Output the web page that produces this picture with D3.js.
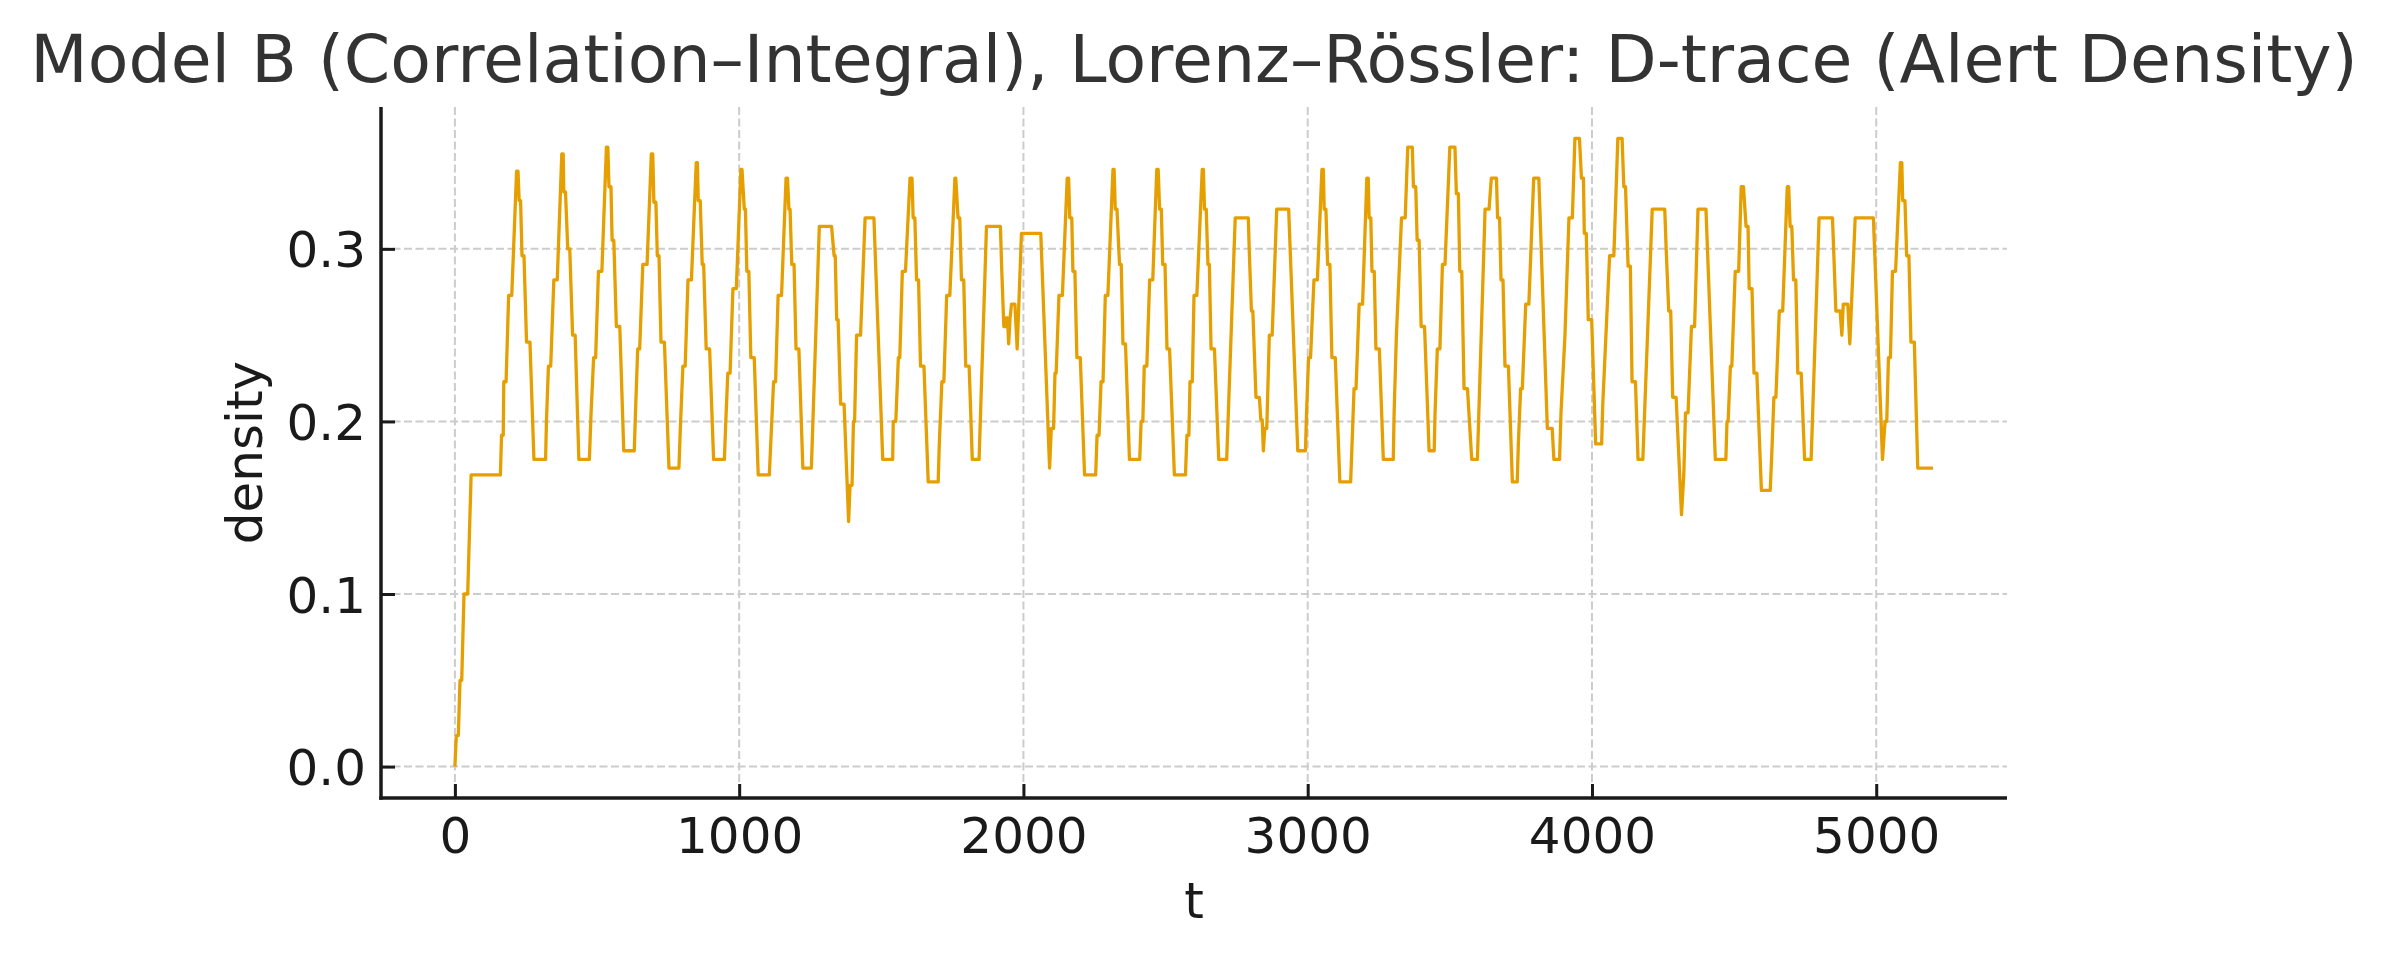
<!DOCTYPE html>
<html>
<head>
<meta charset="utf-8">
<script src="https://cdn.jsdelivr.net/npm/d3@7"></script>
<style>
  html, body { margin: 0; padding: 0; background: #ffffff; }
  svg { display: block; }
  text { font-family: "DejaVu Sans", sans-serif; }
</style>
</head>
<body>
<svg id="chart" width="2388" height="957"></svg>
<script>
// ---- data ----
const chartTitle = "Model B (Correlation–Integral), Lorenz–Rössler: D-trace (Alert Density)";
const xLabel = "t";
const yLabel = "density";
const xTickValues = [0, 1000, 2000, 3000, 4000, 5000];
const yTickValues = [0.0, 0.1, 0.2, 0.3];

const tValues = [
  0, 5, 12, 18, 24, 32, 45, 57, 160, 164, 170, 172, 180, 189, 200, 217, 222, 226, 231, 236, 243, 252, 264, 278,
  319, 322, 329, 337, 348, 360, 376, 381, 383, 389, 397, 404, 414, 423, 436,
  473, 479, 488, 495, 505, 517, 533, 538, 542, 549, 553, 559, 568, 580, 594,
  631, 635, 643, 650, 661, 676, 691, 696, 700, 707, 712, 718, 725, 737, 753,
  788, 793, 802, 810, 820, 832, 849, 853, 856, 863, 870, 875, 884, 896, 910,
  948, 952, 960, 968, 978, 990, 1006, 1010, 1018, 1022, 1027, 1034, 1041, 1053, 1067,
  1106, 1111, 1121, 1128, 1137, 1149, 1165, 1170, 1175, 1179, 1185, 1193, 1200, 1210, 1224,
  1254, 1282, 1325, 1334, 1338, 1343, 1348, 1357, 1369, 1385, 1390, 1397, 1402, 1406, 1413, 1427, 1443, 1474, 1505,
  1540, 1542, 1551, 1560, 1565, 1574, 1585, 1601, 1608, 1612, 1618, 1624, 1631, 1638, 1650, 1665,
  1700, 1704, 1713, 1720, 1730, 1741, 1759, 1762, 1770, 1776, 1782, 1790, 1797, 1809, 1820,
  1844, 1870, 1919, 1923, 1931, 1936, 1938, 1944, 1948, 1953, 1958, 1970, 1978, 1993, 2061, 2092,
  2098, 2106, 2111, 2115, 2125, 2137, 2154, 2159, 2163, 2170, 2174, 2181, 2188, 2200, 2215,
  2254, 2259, 2266, 2273, 2280, 2288, 2297, 2315, 2319, 2323, 2329, 2338, 2344, 2350, 2359, 2373,
  2409, 2414, 2420, 2425, 2434, 2444, 2455, 2469, 2474, 2479, 2485, 2490, 2498, 2505, 2514, 2531,
  2570, 2575, 2582, 2586, 2594, 2600, 2610, 2629, 2633, 2637, 2643, 2649, 2654, 2660, 2672, 2687,
  2715, 2745, 2791, 2795, 2802, 2807, 2818, 2830, 2835, 2840, 2844, 2849, 2856, 2865, 2875, 2891, 2933, 2965,
  2992, 2996, 3003, 3010, 3022, 3034, 3050, 3055, 3058, 3064, 3070, 3078, 3085, 3097, 3113,
  3151, 3156, 3163, 3170, 3181, 3193, 3208, 3213, 3216, 3222, 3226, 3234, 3240, 3252, 3266,
  3301, 3304, 3312, 3330, 3343, 3352, 3368, 3372, 3380, 3385, 3392, 3399, 3411, 3427,
  3445, 3448, 3456, 3465, 3474, 3483, 3500, 3518, 3523, 3530, 3535, 3542, 3550, 3562, 3577,
  3597, 3624, 3638, 3646, 3664, 3668, 3675, 3680, 3687, 3694, 3706, 3720,
  3737, 3741, 3749, 3755, 3767, 3778, 3795, 3813, 3843, 3860, 3866,
  3886, 3891, 3905, 3919, 3931, 3940, 3956, 3963, 3970, 3973, 3980, 3987, 3999, 4013,
  4034, 4038, 4048, 4062, 4077, 4091, 4106, 4112, 4118, 4127, 4135, 4141, 4153, 4162,
  4179, 4212, 4256, 4261, 4270, 4277, 4284, 4296, 4315, 4323, 4329, 4338, 4350, 4361, 4373, 4401, 4434,
  4471, 4475, 4479, 4487, 4492, 4504, 4516, 4525, 4533, 4542, 4549, 4553, 4563, 4570, 4580, 4596,
  4627, 4633, 4640, 4647, 4659, 4671, 4687, 4692, 4697, 4703, 4709, 4717, 4724, 4736, 4748,
  4771, 4799, 4846, 4851, 4858, 4873, 4879, 4884, 4900, 4907, 4926, 4990, 5022,
  5031, 5037, 5043, 5050, 5057, 5068, 5085, 5090, 5093, 5101, 5107, 5115, 5122, 5134, 5146, 5200
];

const densityValues = [
  0.000, 0.018, 0.018, 0.050, 0.050, 0.100, 0.100, 0.169, 0.169, 0.192, 0.192, 0.223, 0.223, 0.273, 0.273, 0.345, 0.345, 0.328, 0.328, 0.296, 0.296, 0.246, 0.246, 0.178,
  0.178, 0.200, 0.232, 0.232, 0.282, 0.282, 0.355, 0.355, 0.333, 0.333, 0.300, 0.300, 0.250, 0.250, 0.178,
  0.178, 0.205, 0.237, 0.237, 0.287, 0.287, 0.359, 0.359, 0.336, 0.336, 0.305, 0.305, 0.255, 0.255, 0.183,
  0.183, 0.204, 0.242, 0.242, 0.291, 0.291, 0.355, 0.355, 0.327, 0.327, 0.296, 0.296, 0.246, 0.246, 0.173,
  0.173, 0.196, 0.232, 0.232, 0.282, 0.282, 0.350, 0.350, 0.328, 0.328, 0.291, 0.291, 0.242, 0.242, 0.178,
  0.178, 0.196, 0.228, 0.228, 0.277, 0.277, 0.346, 0.346, 0.323, 0.323, 0.287, 0.287, 0.237, 0.237, 0.169,
  0.169, 0.187, 0.223, 0.223, 0.273, 0.273, 0.341, 0.341, 0.323, 0.323, 0.291, 0.291, 0.242, 0.242, 0.173,
  0.173, 0.313, 0.313, 0.296, 0.296, 0.259, 0.259, 0.210, 0.210, 0.142, 0.163, 0.163, 0.200, 0.200, 0.250, 0.250, 0.318, 0.318, 0.178,
  0.178, 0.200, 0.200, 0.237, 0.237, 0.287, 0.287, 0.341, 0.341, 0.318, 0.318, 0.282, 0.282, 0.232, 0.232, 0.165,
  0.165, 0.187, 0.223, 0.223, 0.273, 0.273, 0.341, 0.341, 0.318, 0.318, 0.282, 0.282, 0.232, 0.232, 0.178,
  0.178, 0.313, 0.313, 0.291, 0.255, 0.255, 0.260, 0.260, 0.245, 0.260, 0.268, 0.268, 0.242, 0.309, 0.309, 0.173,
  0.196, 0.196, 0.228, 0.228, 0.273, 0.273, 0.341, 0.341, 0.318, 0.318, 0.287, 0.287, 0.237, 0.237, 0.169,
  0.169, 0.192, 0.192, 0.223, 0.223, 0.273, 0.273, 0.346, 0.346, 0.323, 0.323, 0.291, 0.291, 0.245, 0.245, 0.178,
  0.178, 0.200, 0.200, 0.232, 0.232, 0.282, 0.282, 0.346, 0.346, 0.323, 0.323, 0.291, 0.291, 0.242, 0.242, 0.169,
  0.169, 0.192, 0.192, 0.223, 0.223, 0.273, 0.273, 0.346, 0.346, 0.323, 0.323, 0.291, 0.291, 0.242, 0.242, 0.178,
  0.178, 0.318, 0.318, 0.296, 0.264, 0.264, 0.214, 0.214, 0.201, 0.201, 0.183, 0.196, 0.196, 0.250, 0.250, 0.323, 0.323, 0.183,
  0.183, 0.205, 0.237, 0.237, 0.282, 0.282, 0.346, 0.346, 0.323, 0.323, 0.291, 0.291, 0.237, 0.237, 0.165,
  0.165, 0.187, 0.219, 0.219, 0.268, 0.268, 0.341, 0.341, 0.318, 0.318, 0.287, 0.287, 0.242, 0.242, 0.178,
  0.178, 0.205, 0.250, 0.318, 0.318, 0.359, 0.359, 0.336, 0.336, 0.305, 0.305, 0.255, 0.255, 0.183,
  0.183, 0.205, 0.242, 0.242, 0.291, 0.291, 0.359, 0.359, 0.332, 0.332, 0.287, 0.287, 0.219, 0.219, 0.178,
  0.178, 0.323, 0.323, 0.341, 0.341, 0.318, 0.318, 0.282, 0.282, 0.232, 0.232, 0.165,
  0.165, 0.187, 0.219, 0.219, 0.268, 0.268, 0.341, 0.341, 0.196, 0.196, 0.178,
  0.178, 0.205, 0.250, 0.318, 0.318, 0.364, 0.364, 0.341, 0.341, 0.309, 0.309, 0.259, 0.259, 0.187,
  0.187, 0.210, 0.246, 0.296, 0.296, 0.364, 0.364, 0.336, 0.336, 0.290, 0.290, 0.223, 0.223, 0.178,
  0.178, 0.323, 0.323, 0.300, 0.264, 0.264, 0.214, 0.214, 0.146, 0.169, 0.205, 0.205, 0.255, 0.255, 0.323, 0.323, 0.178,
  0.178, 0.200, 0.200, 0.232, 0.232, 0.287, 0.287, 0.336, 0.336, 0.313, 0.313, 0.277, 0.277, 0.228, 0.228, 0.160,
  0.160, 0.183, 0.214, 0.214, 0.264, 0.264, 0.336, 0.336, 0.313, 0.313, 0.282, 0.282, 0.228, 0.228, 0.178,
  0.178, 0.318, 0.318, 0.296, 0.264, 0.264, 0.250, 0.268, 0.268, 0.245, 0.318, 0.318, 0.178,
  0.200, 0.200, 0.237, 0.237, 0.287, 0.287, 0.350, 0.350, 0.328, 0.328, 0.296, 0.296, 0.246, 0.246, 0.173, 0.173
];

// ---- layout ----
const W = 2388, H = 957;
const plot = { left: 381, right: 2007, top: 107, bottom: 798 };
const lineColor = "#E69F00";
const inkColor = "#1a1a1a";

const svg = d3.select("#chart");
svg.append("rect").attr("width", W).attr("height", H).attr("fill", "#ffffff");

const points = tValues.map((t, i) => ({ t, v: densityValues[i] }));

const tExt = d3.extent(tValues);
const vExt = d3.extent(densityValues);
const tPad = (tExt[1] - tExt[0]) * 0.05;
const vPad = (vExt[1] - vExt[0]) * 0.05;

const x = d3.scaleLinear().domain([tExt[0] - tPad, tExt[1] + tPad]).range([plot.left, plot.right]);
const y = d3.scaleLinear().domain([vExt[0] - vPad, vExt[1] + vPad]).range([plot.bottom, plot.top]);

// grid
const grid = svg.append("g").attr("stroke", "#cccccc").attr("stroke-width", 2).attr("stroke-dasharray", "8,3.5");
grid.selectAll("line.gx").data(xTickValues).join("line")
  .attr("x1", d => x(d)).attr("x2", d => x(d))
  .attr("y1", plot.top).attr("y2", plot.bottom);
grid.selectAll("line.gy").data(yTickValues).join("line")
  .attr("x1", plot.left).attr("x2", plot.right)
  .attr("y1", d => y(d)).attr("y2", d => y(d));

// line
const line = d3.line().x(d => x(d.t)).y(d => y(d.v));
svg.append("path").datum(points)
  .attr("fill", "none")
  .attr("stroke", lineColor)
  .attr("stroke-width", 3.3)
  .attr("stroke-linejoin", "round")
  .attr("stroke-linecap", "butt")
  .attr("d", line);

// axes (ticks inward)
const xAxis = d3.axisBottom(x).tickValues(xTickValues).tickFormat(d3.format("d"))
  .tickSizeInner(-14).tickSizeOuter(0).tickPadding(19);
const yAxis = d3.axisLeft(y).tickValues(yTickValues).tickFormat(d3.format(".1f"))
  .tickSizeInner(-14).tickSizeOuter(0).tickPadding(15);

const gx = svg.append("g").attr("transform", `translate(0,${plot.bottom})`).call(xAxis);
const gy = svg.append("g").attr("transform", `translate(${plot.left},0)`).call(yAxis);

[gx, gy].forEach(g => {
  g.select(".domain").remove();
  g.selectAll(".tick line").attr("stroke", inkColor).attr("stroke-width", 3);
  g.selectAll(".tick text").attr("fill", inkColor)
    .style("font-family", "'DejaVu Sans', sans-serif").style("font-size", "50px");
});
gx.selectAll(".tick text").attr("dy", "0.71em");
gy.selectAll(".tick text").attr("dy", "0.36em");

// spines
svg.append("line").attr("x1", plot.left).attr("x2", plot.left)
  .attr("y1", plot.top).attr("y2", plot.bottom + 1.75)
  .attr("stroke", inkColor).attr("stroke-width", 3.5);
svg.append("line").attr("x1", plot.left - 1.75).attr("x2", plot.right)
  .attr("y1", plot.bottom).attr("y2", plot.bottom)
  .attr("stroke", inkColor).attr("stroke-width", 3.5);

// labels
svg.append("text")
  .attr("x", (plot.left + plot.right) / 2).attr("y", 918)
  .attr("text-anchor", "middle").attr("fill", inkColor)
  .style("font-size", "50px").text(xLabel);

svg.append("text")
  .attr("transform", `translate(262,${(plot.top + plot.bottom) / 2}) rotate(-90)`)
  .attr("text-anchor", "middle").attr("fill", inkColor)
  .style("font-size", "50px").text(yLabel);

svg.append("text")
  .attr("x", (plot.left + plot.right) / 2).attr("y", 82)
  .attr("text-anchor", "middle").attr("fill", "#333333")
  .style("font-size", "66.5px").text(chartTitle);
</script>
</body>
</html>
